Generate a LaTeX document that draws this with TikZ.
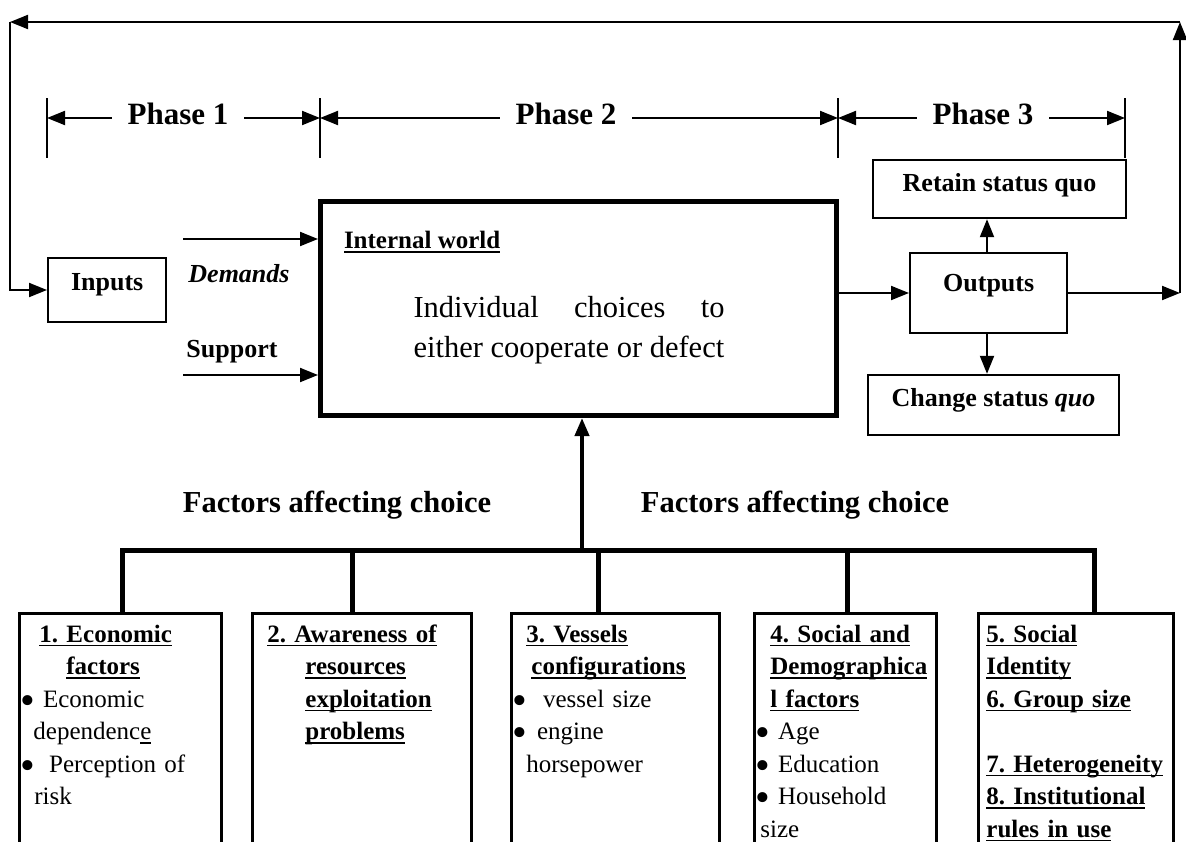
\documentclass[tikz,border=0pt]{standalone}
\usepackage{fontspec}
\setmainfont{Liberation Serif}
\usetikzlibrary{arrows.meta, positioning}
\frenchspacing

\newsavebox{\ulbox}
\newcommand{\ul}[1]{\sbox{\ulbox}{#1}\rlap{\rule[-4pt]{\wd\ulbox}{1.6pt}}\usebox{\ulbox}}
\newcommand{\ttl}[1]{\mbox{\ul{\textbf{#1}}}}
\newcommand{\bul}{\raisebox{-7pt}[0pt][0pt]{\fontsize{42}{42}\selectfont\textbullet}}
\tikzset{
  phase/.style={font=\fontsize{31}{33}\selectfont\bfseries, inner xsep=15pt, inner ysep=0pt},
  lbl/.style={font=\fontsize{26}{28}\selectfont\bfseries, inner sep=0pt},
  smallbox/.style={draw, line width=2.4pt, font=\fontsize{26}{28}\selectfont\bfseries, inner sep=0pt},
  factor/.style={draw, line width=2.8pt, anchor=north west, align=left, inner sep=0pt,
    font=\fontsize{25}{32.5}\selectfont, text height=29pt, text depth=260pt},
  bus/.style={line width=5pt},
}

\begin{document}
\begin{tikzpicture}[x=1pt, y=-1pt, >={Triangle[length=18pt,width=14pt]}, line width=2pt]
  \clip (0,0) rectangle (1186,841);

  % Phase marks
  \foreach \x/\n in {47/t0, 320/t1, 838/t2, 1125/t3} {
    \draw (\x,98) -- (\x,158);
    \coordinate (\n) at (\x,118);
  }
  \node[phase] (ph1) at (178,114) {Phase 1};
  \node[phase] (ph2) at (566,114) {Phase 2};
  \node[phase] (ph3) at (983,114) {Phase 3};
  \draw[->] (ph1.west |- t0) -- (t0);
  \draw[->] (ph1.east |- t1) -- (t1);
  \draw[->] (ph2.west |- t1) -- (t1);
  \draw[->] (ph2.east |- t2) -- (t2);
  \draw[->] (ph3.west |- t2) -- (t2);
  \draw[->] (ph3.east |- t3) -- (t3);

  % System
  \node[smallbox, anchor=west, minimum width=118pt, text height=32.5pt, text depth=31.5pt] (inputs) at (47,290) {Inputs};
  \node[draw, line width=5pt, anchor=north west, minimum width=516pt, minimum height=214pt] (world) at (318,199) {};
  \node[lbl, font=\fontsize{25}{27}\selectfont\bfseries, anchor=west] (wtitle) at (343,242) {\ttl{Internal world}};
  \node[font=\fontsize{30.5}{40}\selectfont, align=left, inner sep=0pt] (choice) at (569,330)
    {\makebox[311pt][s]{Individual\hfill choices\hfill to}\\\mbox{either cooperate or defect}};

  \coordinate (dem) at (183,239);
  \coordinate (sup) at (183,375);
  \draw[->] (dem) -- (dem -| world.west);
  \draw[->] (sup) -- (sup -| world.west);
  \node[lbl, font=\fontsize{26}{28}\selectfont\bfseries\itshape] (demands) at (239,274) {Demands};
  \node[lbl] (support) at (232,352) {Support};

  \node[smallbox, anchor=west, minimum width=157pt, text height=38.5pt, text depth=41.5pt] (outputs) at (909,293) {Outputs};
  \node[smallbox, minimum width=253pt, text height=31.5pt, text depth=26.5pt] (retain) at (999.5,189) {Retain status quo};
  \node[smallbox, minimum width=251pt, text height=31.5pt, text depth=28.5pt] (change) at (993.5,405) {Change status \textit{quo}};
  \draw[->] (outputs.west -| world.east) -- (outputs.west);
  \draw[->] (outputs.north -| 987,0) -- (retain.south -| 987,0);
  \draw[->] (outputs.south -| 987,0) -- (change.north -| 987,0);

  % Feedback loop
  \coordinate (rb) at (1180,293);
  \coordinate (rt) at (1180,22);
  \coordinate (lt) at (10,22);
  \draw[->] (outputs.east) -- (rb);
  \draw[->] (rb) -- (rt);
  \draw[->] (rt) -- (lt);
  \draw[->] (lt) |- (inputs.west);

  % Factors
  \node[lbl, font=\fontsize{30.5}{32}\selectfont\bfseries] (fac1) at (337,505) {Factors affecting choice};
  \node[lbl, font=\fontsize{30.5}{32}\selectfont\bfseries] (fac2) at (795,505) {Factors affecting choice};

  \node[factor, text width=202pt] (f1) at (18,612)
    {\hspace*{20pt}\ttl{1. Economic}\\
     \hspace*{47pt}\ttl{factors}\\
     \hspace*{1pt}\bul\hspace{8pt}Economic\\
     \hspace*{14pt}dependenc\ul{e}\\
     \hspace*{1pt}\bul\hspace{14pt}\mbox{Perception of}\\
     \hspace*{15pt}risk};
  \node[factor, text width=219pt] (f2) at (251,612)
    {\hspace*{15pt}\ttl{2. Awareness of}\\
     \hspace*{53pt}\ttl{resources}\\
     \hspace*{53pt}\ttl{exploitation}\\
     \hspace*{53pt}\ttl{problems}};
  \node[factor, text width=208pt] (f3) at (510,612)
    {\hspace*{15pt}\ttl{3. Vessels}\\
     \hspace*{20pt}\ttl{configurations}\\
     \hspace*{1pt}\bul\hspace{16pt}\mbox{vessel size}\\
     \hspace*{1pt}\bul\hspace{10pt}engine\\
     \hspace*{15pt}horsepower};
  \node[factor, text width=182pt] (f4) at (753,612)
    {\hspace*{16pt}\ttl{4. Social and}\\
     \hspace*{16pt}\ttl{Demographica}\\
     \hspace*{16pt}\ttl{l factors}\\
     \hspace*{1pt}\bul\hspace{8pt}Age\\
     \hspace*{1pt}\bul\hspace{8pt}Education\\
     \hspace*{1pt}\bul\hspace{8pt}Household\\
     \hspace*{6pt}size};
  \node[factor, text width=195pt] (f5) at (977,612)
    {\hspace*{8pt}\ttl{5. Social}\\
     \hspace*{8pt}\ttl{Identity}\\
     \hspace*{8pt}\ttl{6. Group size}\\[32.5pt]
     \hspace*{8pt}\ttl{7. Heterogeneity}\\
     \hspace*{8pt}\ttl{8. Institutional}\\
     \hspace*{8pt}\ttl{rules in use}};

  % Bus
  \coordinate (b1) at (122,550);
  \coordinate (b2) at (352,550);
  \coordinate (b3) at (598,550);
  \coordinate (b4) at (847,550);
  \coordinate (b5) at (1094,550);
  \draw[bus] (b1 |- f1.north) -- (b1) -- (b5) -- (b5 |- f5.north);
  \draw[bus] (b2) -- (b2 |- f2.north);
  \draw[bus] (b3) -- (b3 |- f3.north);
  \draw[bus] (b4) -- (b4 |- f4.north);
  \draw[line width=4pt, ->] (582,550) -- (582,0 |- world.south);
\end{tikzpicture}
\end{document}
